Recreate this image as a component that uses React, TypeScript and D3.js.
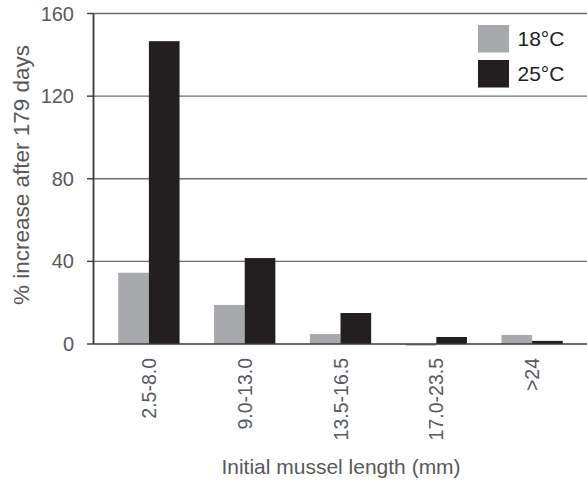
import React from "react";
import * as d3 from "d3";

const categories = ["2.5-8.0", "9.0-13.0", "13.5-16.5", "17.0-23.5", ">24"];
const series18 = [34.5, 18.9, 4.8, -0.8, 4.4];
const series25 = [146.6, 41.6, 15.0, 3.4, 1.5];
const seriesNames = ["18°C", "25°C"];
const seriesColors = ["#a7a9ac", "#231f20"];
const yTicks = [0, 40, 80, 120, 160];

const W = 587;
const H = 482;
const axisX = 93.5;
const plotRight = 587;
const FONT = "Arial, 'Liberation Sans', Helvetica, sans-serif";
const TEXT = "#58595b";

export default function App() {
  const y = d3.scaleLinear().domain([0, 160]).range([344, 13.5]);
  const x = d3
    .scaleBand<string>()
    .domain(categories)
    .range([101, 580])
    .paddingInner(0.36)
    .paddingOuter(0.18);
  const sub = d3
    .scaleBand<string>()
    .domain(seriesNames)
    .range([0, x.bandwidth()])
    .padding(0);
  const allSeries = [series18, series25];

  return (
    <svg
      width={W}
      height={H}
      style={{ position: "absolute", left: 0, top: 0 }}
      fontFamily={FONT}
    >
      <rect width={W} height={H} fill="#fff" />
      {yTicks
        .filter((t) => t !== 0)
        .map((t) => (
          <line
            key={t}
            x1={axisX}
            x2={plotRight}
            y1={y(t)}
            y2={y(t)}
            stroke="#6d6e71"
            strokeWidth={1.4}
          />
        ))}
      {categories.map((c, i) =>
        allSeries.map((s, j) => {
          const v = s[i];
          const y0 = y(0);
          const yv = y(v);
          return (
            <rect
              key={c + j}
              x={(x(c) as number) + (sub(seriesNames[j]) as number)}
              width={sub.bandwidth()}
              y={Math.min(y0, yv)}
              height={Math.abs(yv - y0)}
              fill={seriesColors[j]}
            />
          );
        })
      )}
      <line
        x1={axisX}
        x2={plotRight}
        y1={y(0)}
        y2={y(0)}
        stroke="#3a3a3c"
        strokeWidth={1.6}
      />
      <line
        x1={axisX}
        x2={axisX}
        y1={y(160)}
        y2={y(0)}
        stroke="#3a3a3c"
        strokeWidth={1.8}
      />
      {yTicks.map((t) => (
        <g key={t}>
          <line
            x1={axisX - 6.5}
            x2={axisX}
            y1={y(t)}
            y2={y(t)}
            stroke="#3a3a3c"
            strokeWidth={1.4}
          />
          <text
            x={74}
            y={y(t)}
            dy="0.35em"
            textAnchor="end"
            fontSize={20}
            fill={TEXT}
          >
            {t}
          </text>
        </g>
      ))}
      {categories.map((c) => {
        const cx = (x(c) as number) + x.bandwidth() / 2;
        return (
          <text
            key={c}
            transform={`translate(${cx + 7},358) rotate(-90)`}
            textAnchor="end"
            fontSize={19.5}
            fill={TEXT}
          >
            {c}
          </text>
        );
      })}
      <text
        x={341}
        y={474}
        textAnchor="middle"
        fontSize={21}
        fill={TEXT}
      >
        Initial mussel length (mm)
      </text>
      <text
        transform={`translate(29,175) rotate(-90)`}
        textAnchor="middle"
        fontSize={22.5}
        fill={TEXT}
      >
        % increase after 179 days
      </text>
      {seriesNames.map((n, j) => (
        <g key={n} transform={`translate(478,${25 + j * 35})`}>
          <rect width={31} height={27.5} fill={seriesColors[j]} />
          <text x={39.5} y={14} dy="0.35em" fontSize={21} fill="#231f20">
            {n}
          </text>
        </g>
      ))}
    </svg>
  );
}
